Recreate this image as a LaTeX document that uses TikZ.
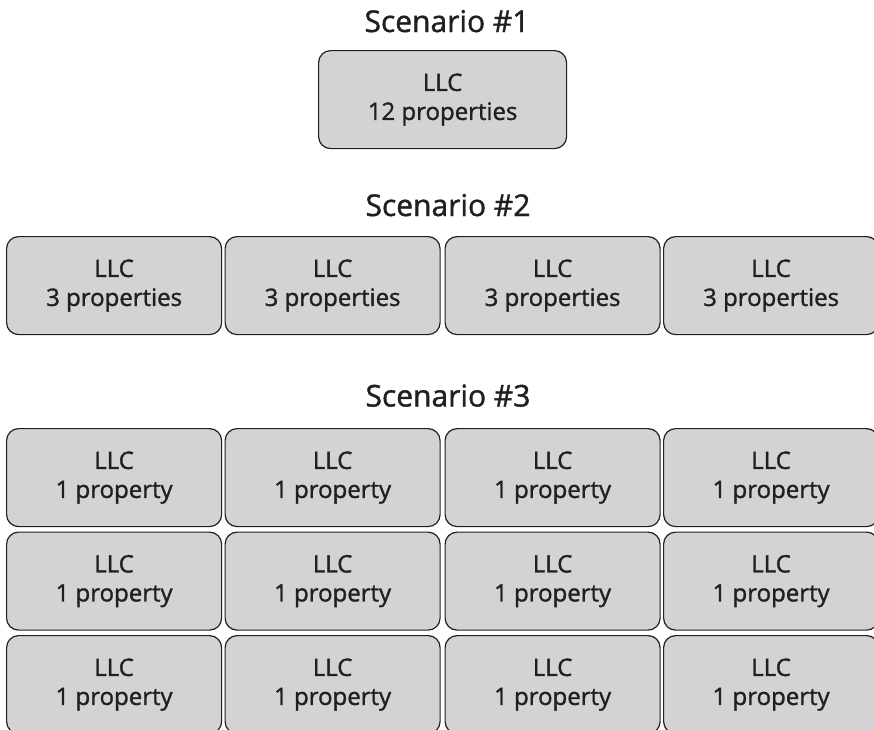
\documentclass[tikz,border=0pt]{standalone}
\usepackage{fontspec}
\setmainfont{Open Sans}[FakeBold=1.3]
\definecolor{boxfill}{RGB}{209,211,212}
\definecolor{ink}{RGB}{35,31,32}
\begin{document}
\begin{tikzpicture}[x=1pt,y=-1pt,
  llc/.style={draw=ink, fill=boxfill, line width=1.2pt, rounded corners=12pt,
    text=ink, align=center, font=\fontsize{24}{29}\selectfont,
    minimum height=98pt, inner sep=0pt, anchor=north west},
  scen/.style={text=ink, font=\fontsize{30}{36}\selectfont, anchor=base, inner sep=0pt}]
\useasboundingbox (0,0) rectangle (874,729);
\clip (0,0) rectangle (874,729);
% Scenario 1
\node[scen] (t1) at (447,32) {Scenario \#1};
\node[llc, minimum width=248pt] (s1) at (318,50) {LLC\\12 properties};
% Scenario 2
\node[scen] (t2) at (448,216) {Scenario \#2};
\foreach \x [count=\i] in {6,224.5,444.5,663}
  \node[llc, minimum width=215pt] (s2-\i) at (\x,236) {LLC\\3 properties};
% Scenario 3
\node[scen] (t3) at (448,406.5) {Scenario \#3};
\foreach \y [count=\j] in {428,531.5,635}
  \foreach \x [count=\i] in {6,224.5,444.5,663}
    \node[llc, minimum width=215pt] (s3-\j-\i) at (\x,\y) {LLC\\1 property};
\end{tikzpicture}
\end{document}
